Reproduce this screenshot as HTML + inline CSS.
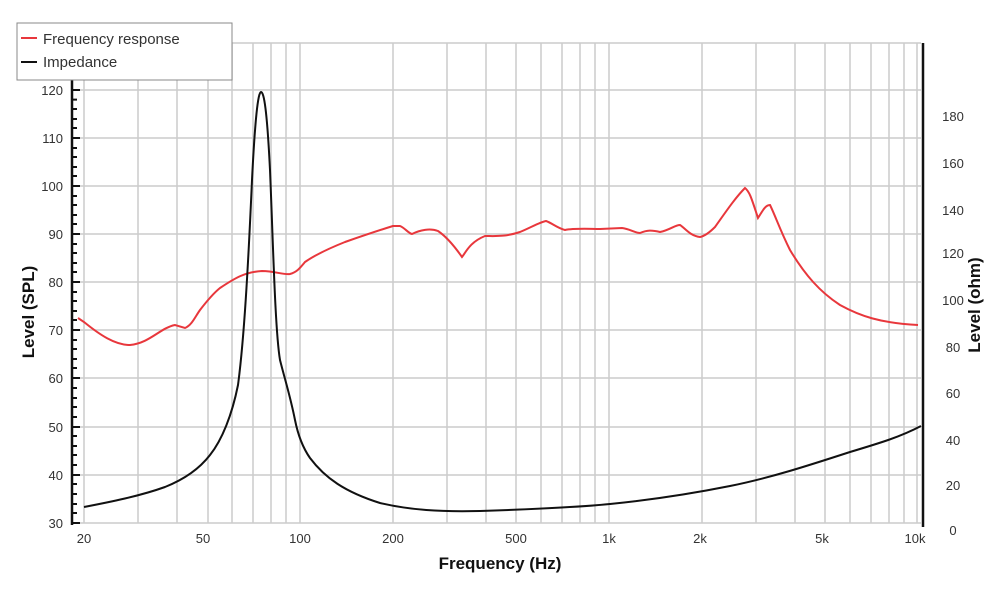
<!DOCTYPE html><html><head><style>body{margin:0;background:#fff}svg{display:block;font-family:"Liberation Sans",sans-serif}</style></head><body>
<svg width="1000" height="600" xmlns="http://www.w3.org/2000/svg">
<g stroke="#ccc" stroke-width="1.5">
<line x1="84" y1="43" x2="84" y2="523"/><line x1="138" y1="43" x2="138" y2="523"/><line x1="177" y1="43" x2="177" y2="523"/><line x1="208" y1="43" x2="208" y2="523"/><line x1="232" y1="43" x2="232" y2="523"/><line x1="253" y1="43" x2="253" y2="523"/><line x1="271" y1="43" x2="271" y2="523"/><line x1="286" y1="43" x2="286" y2="523"/><line x1="300" y1="43" x2="300" y2="523"/>
<line x1="393" y1="43" x2="393" y2="523"/><line x1="447" y1="43" x2="447" y2="523"/><line x1="486" y1="43" x2="486" y2="523"/><line x1="516" y1="43" x2="516" y2="523"/><line x1="541" y1="43" x2="541" y2="523"/><line x1="562" y1="43" x2="562" y2="523"/><line x1="580" y1="43" x2="580" y2="523"/><line x1="595" y1="43" x2="595" y2="523"/><line x1="609" y1="43" x2="609" y2="523"/>
<line x1="702" y1="43" x2="702" y2="523"/><line x1="756" y1="43" x2="756" y2="523"/><line x1="795" y1="43" x2="795" y2="523"/><line x1="825" y1="43" x2="825" y2="523"/><line x1="850" y1="43" x2="850" y2="523"/><line x1="871" y1="43" x2="871" y2="523"/><line x1="889" y1="43" x2="889" y2="523"/><line x1="904" y1="43" x2="904" y2="523"/><line x1="917" y1="43" x2="917" y2="523"/>
<line x1="78" y1="43" x2="921" y2="43"/><line x1="78" y1="90" x2="921" y2="90"/><line x1="78" y1="138" x2="921" y2="138"/><line x1="78" y1="186" x2="921" y2="186"/><line x1="78" y1="234" x2="921" y2="234"/><line x1="78" y1="282" x2="921" y2="282"/><line x1="78" y1="330" x2="921" y2="330"/><line x1="78" y1="378" x2="921" y2="378"/><line x1="78" y1="427" x2="921" y2="427"/><line x1="78" y1="475" x2="921" y2="475"/><line x1="78" y1="523" x2="921" y2="523"/>
</g>
<line x1="72" y1="80" x2="72" y2="525" stroke="#111" stroke-width="2.5"/>
<g stroke="#111" stroke-width="2">
<path d="M72 90h8M72 138h8M72 186h8M72 234h8M72 282h8M72 330h8M72 378h8M72 427h8M72 475h8M72 523h8"/>
<path d="M72 99.6h5M72 109h5M72 119h5M72 128h5M72 148h5M72 157h5M72 167h5M72 176h5M72 196h5M72 205h5M72 215h5M72 224h5M72 244h5M72 253h5M72 263h5M72 272h5M72 292h5M72 301h5M72 311h5M72 320h5M72 340h5M72 349h5M72 359h5M72 368h5M72 388h5M72 398h5M72 407h5M72 417h5M72 436h5M72 446h5M72 455h5M72 465h5M72 484h5M72 494h5M72 504h5M72 513h5"/>
</g>
<line x1="923" y1="43" x2="923" y2="527" stroke="#111" stroke-width="2.5"/>
<g font-size="13" fill="#333" text-anchor="end">
<text x="63" y="95">120</text><text x="63" y="143">110</text><text x="63" y="191">100</text><text x="63" y="239">90</text><text x="63" y="287">80</text><text x="63" y="335">70</text><text x="63" y="383">60</text><text x="63" y="432">50</text><text x="63" y="480">40</text><text x="63" y="528">30</text></g>
<g font-size="13" fill="#333" text-anchor="middle">
<text x="953" y="121">180</text><text x="953" y="168">160</text><text x="953" y="215">140</text><text x="953" y="258">120</text><text x="953" y="305">100</text><text x="953" y="352">80</text><text x="953" y="398">60</text><text x="953" y="445">40</text><text x="953" y="490">20</text><text x="953" y="535">0</text>
<text x="84" y="543">20</text><text x="203" y="543">50</text><text x="300" y="543">100</text><text x="393" y="543">200</text><text x="516" y="543">500</text><text x="609" y="543">1k</text><text x="700" y="543">2k</text><text x="822" y="543">5k</text><text x="915" y="543">10k</text></g>
<text x="500" y="569" font-size="17" font-weight="bold" text-anchor="middle" fill="#111">Frequency (Hz)</text>
<text transform="translate(34,312) rotate(-90)" font-size="17" font-weight="bold" text-anchor="middle" fill="#111">Level (SPL)</text>
<text transform="translate(980,305) rotate(-90)" font-size="17" font-weight="bold" text-anchor="middle" fill="#111">Level (ohm)</text>
<path d="M78 318 L84 322 C100 335 115 345 130 345 C150 343 160 328 175 325 L185 328 C192 325 195 317 200 310 C210 297 215 292 220 288 C235 278 245 272 262 271 C275 271 283 275 290 274 C297 272 300 268 305 262 C315 255 330 248 345 242 C365 235 380 230 393 226 L400 226 C405 228 408 233 412 234 C420 230 430 228 438 231 C447 237 455 247 462 257 C466 252 470 242 485 236 C495 236 505 237 520 232 C530 228 540 222 546 221 C552 223 557 228 565 230 C575 228 590 229 600 229 L622 228 C630 229 635 233 640 233 C647 230 652 230 660 232 C670 230 675 225 680 225 C685 228 690 236 700 237 C705 236 710 232 715 227 C725 213 735 198 745 188 C750 192 752 200 758 218 C762 212 765 205 770 205 C775 215 780 230 790 250 C805 275 820 292 840 305 C860 316 880 323 918 325" fill="none" stroke="#e8373c" stroke-width="2"/>
<path d="M84 507 C110 502 140 496 165 487 C185 479 200 468 210 455 C222 440 232 415 238 385 C244 340 248 270 252 180 C255 120 258 92 261 92 C264 92 267 110 270 170 C273 240 275 330 280 360 C285 380 290 395 295 420 C298 435 303 448 310 458 C325 478 345 492 380 503 C410 510 440 512 480 511 C540 509 580 507 610 504 C650 500 690 494 730 486 C770 478 810 465 850 452 C880 443 900 437 921 426" fill="none" stroke="#111" stroke-width="2"/>
<rect x="17" y="23" width="215" height="57" fill="#fff" stroke="#888" stroke-width="1"/>
<line x1="21" y1="38" x2="37" y2="38" stroke="#e8373c" stroke-width="2"/>
<line x1="21" y1="62" x2="37" y2="62" stroke="#111" stroke-width="2"/>
<text x="43" y="44" font-size="15" fill="#333">Frequency response</text>
<text x="43" y="67" font-size="15" fill="#333">Impedance</text>
</svg></body></html>
